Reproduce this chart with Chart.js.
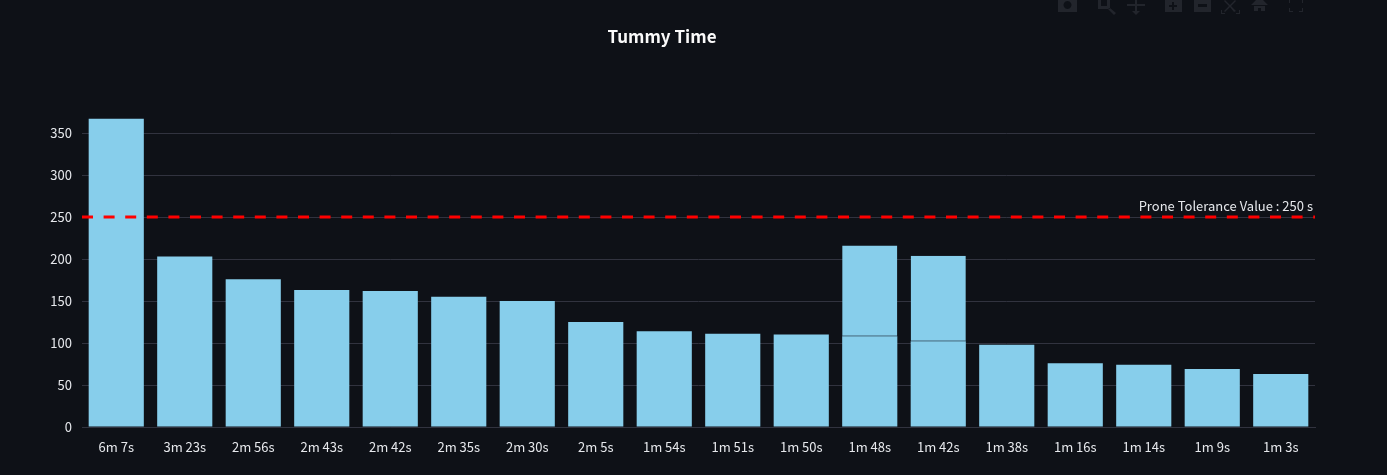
<!DOCTYPE html>
<html>
<head>
<meta charset="utf-8">
<title>Tummy Time</title>
<script src="https://cdn.jsdelivr.net/npm/chart.js@4"></script>
<style>
    html, body { margin: 0; padding: 0; background: #0e1117; overflow: hidden; }
    #wrap { position: relative; width: 1387px; height: 475px; }
    #modebar { position: absolute; left: 0; top: 0; }
</style>
</head>
<body>
<div id="wrap">
    <canvas id="tummyChart" width="1387" height="475"></canvas>
    <!-- barra de iconos, apenas visible -->
    <svg id="modebar" width="1387" height="20" fill="#22252c">
        <path d="M1058 0h19v12h-19z M1067.5 1a4 4 0 1 0 .01 0z" fill-rule="evenodd"/>
        <path d="M1098 0h12v9h-12z M1101 0h6v6h-6z M1108 9l2-1 6 5-2 2z" fill-rule="evenodd"/>
        <path d="M1135 0h2v13h-2z M1127 4h18v2h-18z M1132 11h8l-4 4z"/>
        <path d="M1165 0h17v12h-17z M1172 2v3h-3v2h3v3h2v-3h3v-2h-3v-3z" fill-rule="evenodd"/>
        <path d="M1194 0h17v12h-17z M1198 4h9v3h-9z" fill-rule="evenodd"/>
        <path d="M1225 0l5 5 5-5 1 1-5 5 5 5-2 1-4-5-5 5-1-1 5-5-5-5z M1221 10h1v3h3v1h-4z M1236 13h3v-3h1v4h-4z"/>
        <path d="M1251 5l5-5h7l5 5zM1254 6h11v5h-4v-3h-3v3h-4z"/>
        <path d="M1289 0h1v3h-1z M1302 0h1v3h-1z M1289 8h1v3h3v1h-4z M1302 8h1v4h-4v-1h3z"/>
    </svg>
</div>
<script>
// Datos
const categories = ['6m 7s', '3m 23s', '2m 56s', '2m 43s', '2m 42s', '2m 35s', '2m 30s', '2m 5s', '1m 54s',
    '1m 51s', '1m 50s', '1m 48s', '1m 42s', '1m 38s', '1m 16s', '1m 14s', '1m 9s', '1m 3s'];
const seconds = [367, 203, 176, 163, 162, 155, 150, 125, 114, 111, 110, 108, 102, 98, 76, 74, 69, 63];
// dos sesiones con la misma duración, apiladas
const secondsRepeat = [null, null, null, null, null, null, null, null, null, null, null, 108, 102, null, null, null, null, null];
const yTicks = [0, 50, 100, 150, 200, 250, 300, 350];
const toleranceValue = 250;

const textColor = '#e6e8ec';
const fontFamily = '"Noto Sans CJK SC", "Noto Sans", sans-serif';

// Línea de tolerancia a todo el ancho del área, sobre las barras
const toleranceLine = {
    id: 'toleranceLine',
    afterDatasetsDraw(chart) {
        const { ctx, scales } = chart;
        const y = scales.y.getPixelForValue(toleranceValue);
        ctx.save();
        ctx.strokeStyle = '#ff0000';
        ctx.lineWidth = 3;
        ctx.setLineDash([11, 10.6]);
        ctx.beginPath();
        ctx.moveTo(scales.x.left, y);
        ctx.lineTo(scales.x.right, y);
        ctx.stroke();
        ctx.restore();
    }
};

// Título y texto de la línea de tolerancia
const labelsPlugin = {
    id: 'labelsPlugin',
    afterDraw(chart) {
        const { ctx, scales } = chart;
        ctx.save();
        ctx.fillStyle = '#fafafa';
        ctx.textBaseline = 'middle';
        ctx.font = 'bold 17px ' + fontFamily;
        ctx.textAlign = 'center';
        ctx.fillText('Tummy Time', 662, 37);
        ctx.fillStyle = textColor;
        ctx.font = '13px ' + fontFamily;
        ctx.textAlign = 'right';
        ctx.fillText('Prone Tolerance Value : ' + toleranceValue + ' s', scales.x.right - 2, scales.y.getPixelForValue(toleranceValue) - 11);
        ctx.restore();
    }
};

const barStyle = {
    backgroundColor: '#87ceeb',
    borderColor: '#6fa6c2',
    categoryPercentage: 1,
    barPercentage: 0.805,
    stack: 'tummy'
};

new Chart(document.getElementById('tummyChart'), {
    type: 'bar',
    data: {
        labels: categories,
        datasets: [
            { label: 'Tummy Time', data: seconds, borderWidth: 0, ...barStyle },
            // solo el borde inferior marca la unión entre los dos tramos
            {
                label: 'Tummy Time (2)',
                data: secondsRepeat,
                borderSkipped: false,
                borderWidth: { top: 0, left: 0, right: 0, bottom: 1 },
                ...barStyle
            }
        ]
    },
    options: {
        responsive: false,
        animation: false,
        layout: { padding: { top: 100, right: 72, left: 0, bottom: 0 } },
        plugins: {
            legend: { display: false },
            tooltip: { enabled: false }
        },
        scales: {
            x: {
                stacked: true,
                grid: { display: false },
                border: { color: '#31333f' },
                afterFit(scale) { scale.height = 48; },
                ticks: {
                    autoSkip: false,
                    maxRotation: 0,
                    padding: 4,
                    color: textColor,
                    font: { family: fontFamily, size: 13 }
                }
            },
            y: {
                stacked: true,
                min: 0,
                max: 389.3,
                afterFit(scale) { scale.width = 82; },
                afterBuildTicks(scale) { scale.ticks = yTicks.map(value => ({ value })); },
                grid: { color: '#31333f', lineWidth: 1, drawTicks: false },
                border: { display: false },
                ticks: {
                    padding: 10,
                    color: textColor,
                    font: { family: fontFamily, size: 13 }
                }
            }
        }
    },
    plugins: [toleranceLine, labelsPlugin]
});
</script>
</body>
</html>
